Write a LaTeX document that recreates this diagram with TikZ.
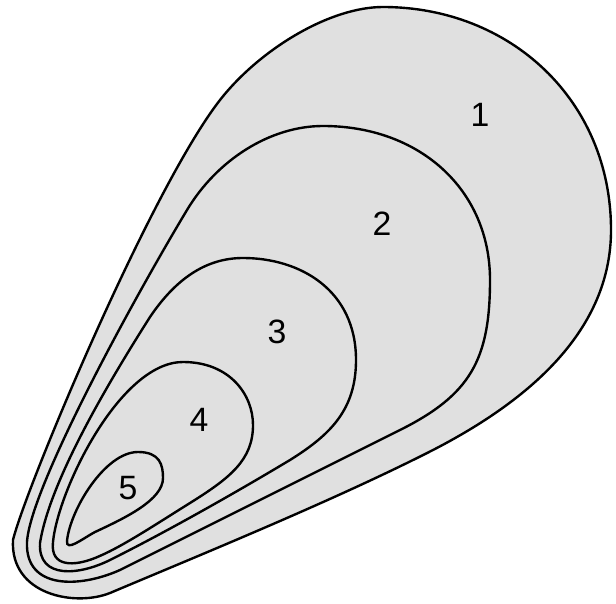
\documentclass[tikz,border=0pt]{standalone}
\usepackage{fontspec}
\setmainfont{Liberation Sans}
\definecolor{shellGray}{HTML}{E0E0E0}

\begin{document}
\begin{tikzpicture}[x=0.025cm, y=-0.025cm,
  shell/.style={draw=black, line width=1.7pt, fill=shellGray},
  zone/.style={font=\fontsize{24}{28}\selectfont, text=black, inner sep=0pt}
]
\useasboundingbox (0,0) rectangle (616,603);
% shell 1 (outermost)
\draw[shell] (13,540) .. controls (25,490) and (150,190) .. (220,100)
  .. controls (260,49) and (330,7) .. (383,7)
  .. controls (510,7) and (611,100) .. (611,230)
  .. controls (611,330) and (530,400) .. (433,450)
  .. controls (335,500) and (200,555) .. (110,593)
  .. controls (75,607) and (10,595) .. (13,540) -- cycle;
% shell 2
\draw[shell] (27,542) .. controls (30,490) and (127,310) .. (187,210)
  .. controls (217,160) and (270,126) .. (323,126)
  .. controls (420,126) and (490,190) .. (490,280)
  .. controls (490,360) and (470,395) .. (400,430)
  .. controls (320,470) and (200,530) .. (120,570)
  .. controls (80,588) and (25,590) .. (27,542) -- cycle;
% shell 3
\draw[shell] (40,543) .. controls (50,480) and (110,380) .. (150,317)
  .. controls (175,280) and (205,258) .. (243,258)
  .. controls (300,258) and (356,290) .. (356,360)
  .. controls (356,410) and (330,435) .. (290,460)
  .. controls (240,490) and (170,530) .. (110,560)
  .. controls (80,575) and (38,580) .. (40,543) -- cycle;
% shell 4
\draw[shell] (53,542) .. controls (58,490) and (120,362) .. (183,362)
  .. controls (230,362) and (253,395) .. (253,425)
  .. controls (253,460) and (230,478) .. (190,503)
  .. controls (150,528) and (120,548) .. (95,558)
  .. controls (75,566) and (50,568) .. (53,542) -- cycle;
% shell 5 (innermost)
\draw[shell] (67,541) .. controls (70,510) and (105,452) .. (138,452)
  .. controls (160,452) and (163,465) .. (163,478)
  .. controls (163,500) and (125,518) .. (95,532)
  .. controls (82,539) and (66,552) .. (67,541) -- cycle;
% zone numbers
\node[zone] (n1) at (480,115) {1};
\node[zone] (n2) at (382,224) {2};
\node[zone] (n3) at (277,332) {3};
\node[zone] (n4) at (199,420) {4};
\node[zone] (n5) at (128,488) {5};
\end{tikzpicture}
\end{document}
